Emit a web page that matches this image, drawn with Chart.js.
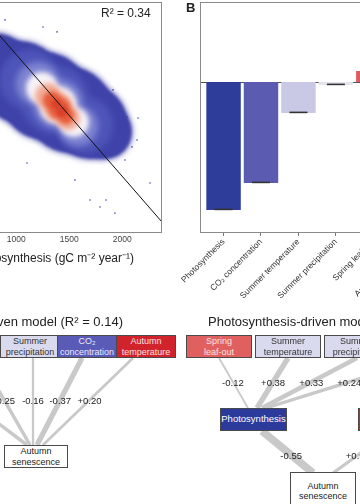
<!DOCTYPE html>
<html>
<head>
<meta charset="utf-8">
<script src="https://cdn.jsdelivr.net/npm/chart.js@4.4.1/dist/chart.umd.min.js"></script>
<style>
  html, body { margin: 0; padding: 0; background: #fff; }
  body { width: 360px; height: 504px; overflow: hidden; position: relative;
         font-family: "Liberation Sans", Arial, Helvetica, sans-serif; color: #222; }
  .wrap { position: absolute; }
  .box { position: absolute; box-sizing: border-box; border: 1px solid #4a4a4a;
         display: flex; align-items: center; justify-content: center; text-align: center;
         font-size: 9px; line-height: 10.5px; white-space: pre-line; }
  .coef { position: absolute; font-size: 9.5px; line-height: 11px; transform: translate(-50%, -50%); white-space: nowrap; color: #222; }
  .title { position: absolute; font-size: 13px; line-height: 15px; white-space: nowrap; color: #222; }
  #lines { position: absolute; left: 0; top: 0; }
</style>
</head>
<body>
<div class="wrap" style="left:-58px;top:0;width:222px;height:266px"><canvas id="scatterChart"></canvas></div>
<div class="wrap" style="left:180px;top:0;width:252px;height:302px"><canvas id="barChart"></canvas></div>
<div style="position:absolute;left:101px;top:6px;font-size:12px;line-height:14px">R² = 0.34</div>
<div style="position:absolute;left:186px;top:0;font-size:13px;line-height:15px;font-weight:bold">B</div>
<svg id="lines" width="360" height="504"></svg>
<div id="diagram"></div>
<script>
// ---- panel A: photosynthesis vs autumn senescence (density scatter) ----
const xTicks = [500, 1000, 1500, 2000];
const fitLine = [[600, 328.5], [2375, 243.9]];
// density cloud, read as a few layered blobs from outside to core
const cloudOuter = [[800, 303.4], [1036, 298.7], [1271, 293.2], [1507, 287.7], [1696, 283.0], [1837, 279.1]];
const cloudMid = [[1130, 299.5], [1366, 291.6], [1649, 281.9]];
const cloudLight = [[1205, 297.9], [1394, 290.1], [1583, 281.5]];
const cloudWhite = [[1243, 296.3], [1394, 289.7], [1545, 283.0]];
const cloudPink = [[1300, 293.2], [1394, 288.9], [1488, 284.6]];
const cloudRed = [[1337, 291.6], [1404, 288.5], [1470, 285.4]];
const cloudCore = [[1375, 290.1], [1432, 287.3]];
const strayPoints = [[1253, 320.2], [1385, 318.3], [1913, 295.6], [2045, 285.0], [2139, 276.0], [2262, 259.2],
  [1696, 252.5], [1790, 249.8], [1931, 247.4], [1102, 267.0], [941, 283.8], [1979, 281.1], [2092, 273.3],
  [1847, 252.5], [2149, 284.6], [894, 323.0], [1554, 260.3], [2026, 268.2]];

// ---- panel B: effects on autumn senescence ----
const categories = ['Photosynthesis', 'CO₂ concentration', 'Summer temperature', 'Summer precipitation', 'Spring leaf-out', 'Autumn temperature'];
const effects = [-0.64, -0.505, -0.155, -0.015, 0.055, 0.22];
const effectErrors = [0.004, 0.004, 0.004, 0.004, 0.004, 0.004];
const barColors = ['#2f3d9a', '#5b5cb1', '#c9c8e5', '#e4e4ee', '#e05a60', '#c8232b'];

// ---- path models ----
const climateDrivers = ['Spring\nleaf-out', 'Summer\ntemperature', 'Summer\nprecipitation', 'CO₂\nconcentration', 'Autumn\ntemperature'];
const climateCoefs = [0.18, -0.25, -0.16, -0.37, 0.20];
const photoDrivers = ['Spring\nleaf-out', 'Summer\ntemperature', 'Summer\nprecipitation', 'CO₂\nconcentration'];
const photoCoefs = [-0.12, 0.38, 0.33, 0.24];
const senescenceDrivers = ['Photosynthesis', 'Autumn\ntemperature'];
const senescenceCoefs = [-0.55, 0.51];

Chart.defaults.font.family = '"Liberation Sans", Arial, Helvetica, sans-serif';

const pts = arr => arr.map(([x, y]) => ({ x, y }));

const framePlugin = {
  id: 'frame',
  afterDraw(chart, args, opts) {
    const { ctx, chartArea: a } = chart;
    const inset = opts.leftInset || 0;
    ctx.save();
    ctx.strokeStyle = '#8a8a8a';
    ctx.lineWidth = 1;
    ctx.strokeRect(Math.round(a.left - inset) + 0.5, Math.round(a.top) + 0.5,
      Math.round(a.right - a.left + inset) - 1, Math.round(a.bottom - a.top));
    ctx.restore();
  }
};

const blurPlugin = {
  id: 'blur',
  beforeDatasetDraw(chart, args) {
    const b = chart.data.datasets[args.index].blur;
    if (b) { chart.ctx.save(); chart.ctx.filter = 'blur(' + b + 'px)'; }
  },
  afterDatasetDraw(chart, args) {
    if (chart.data.datasets[args.index].blur) chart.ctx.restore();
  }
};

function blob(data, radii, color, blur) {
  return { data: pts(data), pointRadius: radii, pointBackgroundColor: color, pointBorderWidth: 0,
           pointHoverRadius: radii, showLine: false, blur: blur };
}

// first dataset is drawn on top
new Chart(document.getElementById('scatterChart'), {
  type: 'scatter',
  data: {
    datasets: [
      { type: 'line', data: pts(fitLine), borderColor: '#111', borderWidth: 1, pointRadius: 0, showLine: true },
      blob(cloudCore, [5, 6], '#d9422a', 1.5),
      blob(cloudRed, [9, 11, 8], '#e65c3c', 2),
      blob(cloudPink, [13, 15, 12], '#f2ab95', 2.5),
      blob(cloudWhite, [16, 19, 15], '#f6f2f7', 2.5),
      blob(cloudLight, [22, 25, 20], '#7f85d2', 3),
      blob(cloudMid, [30, 34, 28], '#4e55b9', 3),
      blob(cloudOuter, [37, 41, 44, 43, 37, 27], '#3f43a9', 1.5),
      blob(cloudOuter, [40, 44, 47, 46, 40, 30], 'rgba(63,67,169,0.3)', 2),
      blob(strayPoints, 0.8, '#3d41a6', 0)
    ]
  },
  options: {
    animation: false,
    responsive: true,
    maintainAspectRatio: false,
    layout: { autoPadding: false, padding: { top: 2, right: 2, left: 0, bottom: 0 } },
    plugins: { legend: { display: false }, tooltip: { enabled: false }, frame: { leftInset: 0 } },
    scales: {
      x: {
        type: 'linear', min: 300, max: 2375,
        grid: { display: false, drawTicks: false }, border: { display: false },
        ticks: { padding: 3, color: '#444', font: { size: 8.5 }, maxRotation: 0, callback: v => String(v) },
        afterBuildTicks: s => { s.ticks = xTicks.map(v => ({ value: v })); },
        title: { display: true, text: 'Photosynthesis (gC m⁻² year⁻¹)', color: '#222', font: { size: 12 }, padding: 0 },
        afterFit: s => { s.height = 34; }
      },
      y: { display: false, min: 240, max: 330 }
    }
  },
  plugins: [framePlugin, blurPlugin]
});

const zeroLinePlugin = {
  id: 'zeroLine',
  beforeDatasetsDraw(chart) {
    const { ctx, chartArea: a, scales } = chart;
    const y0 = Math.round(scales.y.getPixelForValue(0)) + 0.5;
    ctx.save();
    ctx.strokeStyle = '#555';
    ctx.lineWidth = 1;
    ctx.beginPath();
    ctx.moveTo(a.left - 4.5, y0);
    ctx.lineTo(a.right, y0);
    ctx.stroke();
    ctx.restore();
  }
};

const errorPlugin = {
  id: 'errorBars',
  afterDatasetsDraw(chart) {
    const { ctx, scales } = chart;
    chart.getDatasetMeta(0).data.forEach((bar, i) => {
      const v = effects[i], e = effectErrors[i];
      const yA = scales.y.getPixelForValue(v + e), yB = scales.y.getPixelForValue(v - e);
      ctx.save();
      ctx.fillStyle = '#333';
      ctx.fillRect(bar.x - 9, Math.min(yA, yB) - 0.6, 18, Math.max(Math.abs(yB - yA), 1.4));
      ctx.restore();
    });
  }
};

new Chart(document.getElementById('barChart'), {
  type: 'bar',
  data: {
    labels: categories,
    datasets: [{ data: effects, backgroundColor: barColors, borderWidth: 0,
                 barPercentage: 0.92, categoryPercentage: 1.0 }]
  },
  options: {
    animation: false,
    responsive: true,
    maintainAspectRatio: false,
    layout: { padding: { top: 2, right: 2.5, left: 21.5, bottom: 0 } },
    plugins: { legend: { display: false }, tooltip: { enabled: false }, frame: { leftInset: 4.5 } },
    scales: {
      x: {
        grid: { display: true, drawOnChartArea: false, drawTicks: true, tickLength: 4, color: '#777', offset: false },
        border: { display: false },
        ticks: { autoSkip: false, minRotation: 45, maxRotation: 45, padding: 1, color: '#333', font: { size: 8.5 } },
        afterFit: s => { s.height = 70; }
      },
      y: { display: false, min: -0.75, max: 0.40 }
    }
  },
  plugins: [zeroLinePlugin, errorPlugin, framePlugin]
});

// ---- path diagrams (layout only; coefficients come from the arrays above) ----
const boxColors = {
  'Spring\nleaf-out': ['#e0605f', '#fde3e3'],
  'Summer\ntemperature': ['#dadaef', '#333'],
  'Summer\nprecipitation': ['#dadaef', '#333'],
  'CO₂\nconcentration': ['#5a5ab7', '#eceeff'],
  'Autumn\ntemperature': ['#d0232b', '#fbe0e0'],
  'Photosynthesis': ['#2c3a9b', '#ffffff'],
  'Autumn\nsenescence': ['#ffffff', '#222']
};

const diagram = document.getElementById('diagram');
const svg = document.getElementById('lines');

function addBox(label, left, top, w, h, fontSize) {
  const d = document.createElement('div');
  d.className = 'box';
  const c = boxColors[label];
  d.style.cssText += `left:${left}px;top:${top}px;width:${w}px;height:${h}px;background:${c[0]};color:${c[1]};`;
  if (fontSize) d.style.fontSize = fontSize + 'px';
  d.textContent = label;
  diagram.appendChild(d);
}

function addLink(x1, y1, x2, y2, width, coef, labelY) {
  const l = document.createElementNS('http://www.w3.org/2000/svg', 'line');
  l.setAttribute('x1', x1); l.setAttribute('y1', y1);
  l.setAttribute('x2', x2); l.setAttribute('y2', y2);
  l.setAttribute('stroke', '#c9c9c9');
  l.setAttribute('stroke-width', width);
  svg.appendChild(l);
  const t = document.createElement('div');
  t.className = 'coef';
  const lx = x1 + (x2 - x1) * (labelY - y1) / (y2 - y1);
  t.style.left = lx + 'px';
  t.style.top = labelY + 'px';
  t.textContent = (coef > 0 ? '+' : '') + coef.toFixed(2);
  diagram.appendChild(t);
}

function addTitle(text, left, top, alignRightAt) {
  const t = document.createElement('div');
  t.className = 'title';
  t.textContent = text;
  if (alignRightAt !== undefined) {
    t.style.right = (360 - alignRightAt) + 'px';
  } else {
    t.style.left = left + 'px';
  }
  t.style.top = top + 'px';
  diagram.appendChild(t);
}

// left: climate-driven model
addTitle('Climate-driven model (R² = 0.14)', null, 314, 123);
const climateBoxX = [-118, -59, 0, 57, 116];
const climateFromX = [-88, -20, 33, 82, 133];
const climateToX = [27, 30, 33, 37, 43];
const climateWidths = [3.5, 3.5, 2.3, 5.2, 2.8];
climateCoefs.forEach((c, i) => addLink(climateFromX[i], 358, climateToX[i], 445, climateWidths[i], c, 400));
climateDrivers.forEach((lab, i) => addBox(lab, climateBoxX[i], 335, 60, 23));
addBox('Autumn\nsenescence', 4, 445, 64, 23);

// right: photosynthesis-driven model
addTitle('Photosynthesis-driven model (R² = 0.21)', 208, 314);
const photoBoxX = [186, 255, 324, 393];
const photoFromX = [219, 288, 357, 426];
const photoToX = [248, 257, 262, 266];
const photoWidths = [1.8, 5.3, 4.6, 3.4];
photoCoefs.forEach((c, i) => addLink(photoFromX[i], 358, photoToX[i], 408, photoWidths[i], c, 382));
const senFrom = [[262, 431], [391, 431]];
const senTo = [[313, 473], [333, 473]];
const senWidths = [7.7, 3.3];
senescenceCoefs.forEach((c, i) => addLink(senFrom[i][0], senFrom[i][1], senTo[i][0], senTo[i][1], senWidths[i], c, 455));
photoDrivers.forEach((lab, i) => addBox(lab, photoBoxX[i], 335, 66, 23));
addBox('Photosynthesis', 220, 408, 67, 23, 9.5);
addBox('Autumn\ntemperature', 358, 408, 66, 23);
addBox('Autumn\nsenescence', 290, 472, 66, 38);
</script>
</body>
</html>
